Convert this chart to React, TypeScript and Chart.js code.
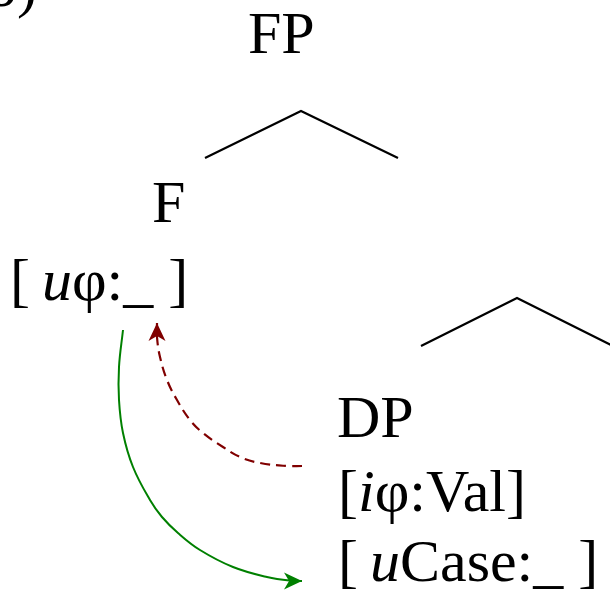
import React, { useEffect, useRef } from "react";
import { Chart, registerables } from "chart.js";

Chart.register(...registerables);

const W = 610;
const H = 597;

// Tree branches (value space = page pixels)
const branchFPx = [205, 301, 398];
const branchFPy = [158, 111, 158];
const branchDPx = [421, 517, 613];
const branchDPy = [346, 298, 346];

// Agree arrow (red dashed): from DP features up to F features; last point is the tip
const agreeX = [302, 287, 260, 240, 223, 203, 190, 177, 167, 160, 157, 157];
const agreeY = [466, 466, 463, 457, 447, 433, 420, 400, 380, 357, 337, 323];

// Case arrow (green): from F features down to [uCase]; last point is the tip
const caseX = [123, 119, 119, 123, 133, 150, 162, 178, 200, 233, 267, 293, 302];
const caseY = [330, 367, 400, 433, 467, 500, 517, 533, 550, 567, 577, 581, 581];

// Node labels; *x* marks italic segments
const labelText = ["(b)", "FP", "F", "[\u2009*u*φ:_ ]", "DP", "[*i*φ:Val]", "[\u2009*u*Case:_ ]"];
const labelX = [-33, 248, 152, 10, 337, 338, 338];
const labelY = [6, 53, 222, 300, 437, 511, 581];

const FONT_SIZE = 60;
const FONT_FAMILY = "'Liberation Serif', 'DejaVu Serif', serif";

const toPts = (xs: number[], ys: number[]) => xs.map((x, i) => ({ x, y: ys[i] }));

const textPlugin = {
  id: "treeText",
  afterDraw(chart: any) {
    const ctx = chart.ctx;
    const sx = chart.scales.x;
    const sy = chart.scales.y;
    ctx.save();
    ctx.fillStyle = "#000";
    ctx.textBaseline = "alphabetic";
    ctx.textAlign = "left";
    labelText.forEach((t, i) => {
      let px = sx.getPixelForValue(labelX[i]);
      const py = sy.getPixelForValue(labelY[i]);
      const parts = t.split("*");
      parts.forEach((p, j) => {
        if (!p) return;
        const italic = j % 2 === 1;
        ctx.font = `${italic ? "italic " : ""}${FONT_SIZE}px ${FONT_FAMILY}`;
        ctx.fillText(p, px, py);
        px += ctx.measureText(p).width;
      });
    });
    ctx.restore();
  },
};

const arrowPlugin = {
  id: "arrowHeads",
  afterDatasetsDraw(chart: any) {
    const ctx = chart.ctx;
    chart.data.datasets.forEach((ds: any, i: number) => {
      if (!ds.arrow) return;
      const meta = chart.getDatasetMeta(i);
      const pts = meta.data;
      const n = pts.length;
      if (n < 2) return;
      const tip = pts[n - 1];
      const prev = pts[n - 2];
      const ang = Math.atan2(tip.y - prev.y, tip.x - prev.x);
      const L = 18;
      const Wd = 17;
      ctx.save();
      ctx.translate(tip.x, tip.y);
      ctx.rotate(ang);
      ctx.beginPath();
      ctx.moveTo(0, 0);
      ctx.lineTo(-L, Wd / 2);
      ctx.lineTo(-L * 0.72, 0);
      ctx.lineTo(-L, -Wd / 2);
      ctx.closePath();
      ctx.fillStyle = ds.borderColor;
      ctx.fill();
      ctx.restore();
    });
  },
};

export default function App() {
  const ref = useRef<HTMLCanvasElement | null>(null);
  useEffect(() => {
    if (!ref.current) return;
    const lineBase = {
      type: "line" as const,
      showLine: true,
      pointRadius: 0,
      pointHoverRadius: 0,
      fill: false,
    };
    const chart = new Chart(ref.current, {
      type: "scatter",
      data: {
        datasets: [
          { ...lineBase, data: toPts(branchFPx, branchFPy), borderColor: "#000", borderWidth: 2.2, tension: 0 },
          { ...lineBase, data: toPts(branchDPx, branchDPy), borderColor: "#000", borderWidth: 2.2, tension: 0 },
          {
            ...lineBase,
            data: toPts(agreeX, agreeY),
            borderColor: "#800000",
            borderWidth: 2.2,
            borderDash: [10, 6],
            tension: 0.4,
            arrow: true,
          } as any,
          {
            ...lineBase,
            data: toPts(caseX, caseY),
            borderColor: "#008000",
            borderWidth: 2,
            tension: 0.4,
            arrow: true,
          } as any,
        ],
      },
      options: {
        animation: false,
        responsive: false,
        maintainAspectRatio: false,
        layout: { padding: 0 },
        scales: {
          x: { type: "linear", min: 0, max: W, display: false },
          y: { type: "linear", min: 0, max: H, reverse: true, display: false },
        },
        plugins: { legend: { display: false }, tooltip: { enabled: false } },
        events: [],
      },
      plugins: [arrowPlugin, textPlugin],
    });
    return () => chart.destroy();
  }, []);
  return (
    <div style={{ position: "absolute", left: 0, top: 0, width: W, height: H, background: "#fff" }}>
      <canvas ref={ref} width={W} height={H} style={{ display: "block" }} />
    </div>
  );
}
